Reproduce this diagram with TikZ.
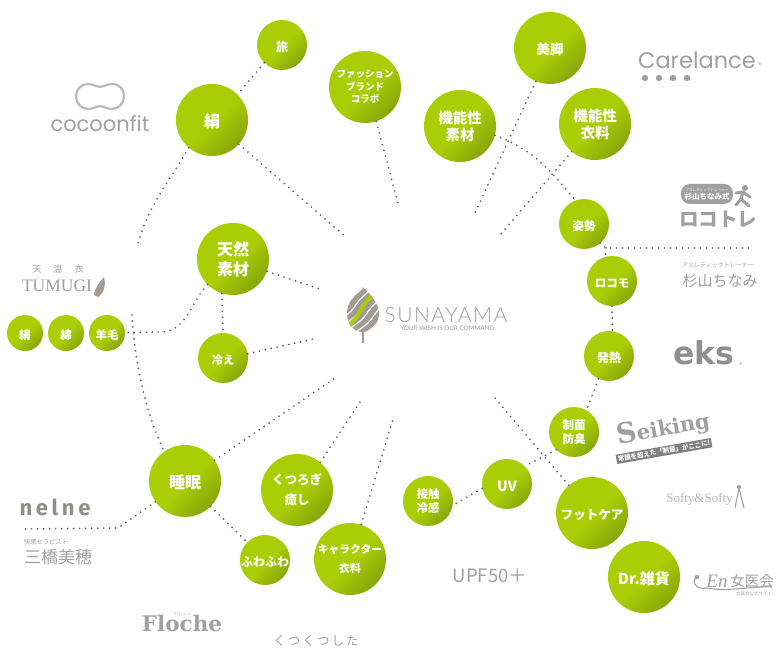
\documentclass[tikz,border=0pt]{standalone}
\usepackage{fontspec}
\setmainfont{Noto Sans CJK JP}
\newfontfamily\latofont{Lato}
\newfontfamily\lightfont[LetterSpace=7]{Lato Light}
\newfontfamily\popfont{Poppins}
\newfontfamily\serfont{Liberation Serif}
\newfontfamily\slabfont{DejaVu Serif}
\newfontfamily\heavyfont{DejaVu Sans}
\newfontfamily\firafont{Fira Sans}
\definecolor{limeball}{HTML}{ABCD05}
\definecolor{oliveball}{HTML}{7E9E0C}
\definecolor{dotgray}{HTML}{5F5A55}
\definecolor{logogray}{HTML}{A0A0A0}
\definecolor{warmgray}{HTML}{A39C96}
\pgfdeclarehorizontalshading{ballshade}{100bp}{color(0bp)=(limeball); color(52bp)=(limeball); color(80bp)=(oliveball); color(100bp)=(oliveball)}
\tikzset{
  ball/.style={circle, inner sep=0pt, shading=ballshade, shading angle=-45, text=white, font=\bfseries, align=center,
    execute at begin node={\rule{0pt}{\dimexpr.88em+3pt\relax}}},
  lowtext/.style={execute at begin node={\rule{0pt}{\dimexpr.88em+9pt\relax}}},
  smallball/.style={ball, minimum size=50pt, font=\bfseries\fontsize{11.5}{14.5}\selectfont},
  bigball/.style={ball, minimum size=72pt, font=\bfseries\fontsize{14.5}{17}\selectfont},
  tinyball/.style={ball, minimum size=36pt, font=\bfseries\fontsize{11.5}{13}\selectfont},
  dotline/.style={draw=dotgray, line width=1.9pt, line cap=round, dash pattern=on 0pt off 6pt},
  logotext/.style={text=logogray, inner sep=0pt}
}
\begin{document}
\begin{tikzpicture}[x=1pt,y=-1pt]
  \useasboundingbox (0,0) rectangle (780,660);
  % circles
  \node[smallball, font=\bfseries\fontsize{12}{14}\selectfont] (tabi) at (282,45) {旅};
  \node[bigball, font=\bfseries\fontsize{16}{18}\selectfont] (kinu) at (212,120) {絹};
  \node[bigball, lowtext, font=\bfseries\fontsize{9.5}{12.5}\selectfont] (fashion) at (365,87) {ファッション\\ブランド\\コラボ};
  \node[bigball, font=\bfseries\fontsize{13.5}{18}\selectfont] (bikyaku) at (550,48) {美脚};
  \node[bigball, lowtext] (sozai) at (460,126) {機能性\\素材};
  \node[bigball, lowtext] (wear) at (595,124) {機能性\\衣料};
  \node[smallball] (shisei) at (584,224) {姿勢};
  \node[smallball] (locomo) at (612,281) {ロコモ};
  \node[smallball, font=\bfseries\fontsize{12}{14}\selectfont] (hatsunetsu) at (609,356) {発熱};
  \node[smallball] (seikin) at (574,432) {制菌\\防臭};
  \node[bigball, font=\bfseries\fontsize{12.5}{16}\selectfont] (foot) at (592,513) {フットケア};
  \node[bigball, font=\bfseries\fontsize{15}{18}\selectfont] (doctor) at (644,577) {Dr.雑貨};
  \node[smallball, font=\bfseries\fontsize{14}{14}\selectfont] (uv) at (507,484) {UV};
  \node[smallball] (sesshoku) at (428,501) {接触\\冷感};
  \node[bigball, lowtext, font=\bfseries\fontsize{10.8}{19}\selectfont] (chara) at (350,559) {キャラクター\\衣料};
  \node[bigball, lowtext, font=\bfseries\fontsize{12.5}{20}\selectfont] (kutsu) at (297,490) {くつろぎ\\癒し};
  \node[smallball, font=\bfseries\fontsize{12}{14}\selectfont] (fuwa) at (265,560) {ふわふわ};
  \node[bigball, font=\bfseries\fontsize{16}{18}\selectfont] (suimin) at (185,481) {睡眠};
  \node[smallball] (hie) at (223,358) {冷え};
  \node[bigball, lowtext, font=\bfseries\fontsize{16}{20}\selectfont] (tennen) at (233,259) {天然\\素材};
  \node[tinyball] (silk) at (25,333) {絹};
  \node[tinyball] (cotton) at (66,333) {綿};
  \node[tinyball] (youmou) at (107,333) {羊毛};
  % free ends of the dotted lines
  \coordinate (endkinu) at (347,238);
  \coordinate (endfashion) at (399,207);
  \coordinate (endbikyaku) at (473,217);
  \coordinate (endwear) at (500,235);
  \coordinate (endfoot) at (495,398);
  \coordinate (endchara) at (394,416);
  \coordinate (endkutsu) at (360,402);
  \coordinate (endsuimin) at (338,376);
  \coordinate (endhie) at (318,338);
  \coordinate (endtennen) at (323,290);
  \coordinate (endloco) at (754,248);
  \coordinate (kneeloco) at (606,248);
  \coordinate (endcocoon) at (137,247);
  \coordinate (endtumugi) at (132,315);
  \coordinate (endnelne) at (22,529);
  \coordinate (kneenelne) at (118,528);
  \coordinate (kneewool) at (160,332);
  % dotted lines
  \draw[dotline] (tabi.-135) -- (kinu.45);
  \draw[dotline] (kinu.-42) -- (endkinu);
  \draw[dotline] (fashion.-72) -- (endfashion);
  \draw[dotline] (bikyaku.-113) -- (endbikyaku);
  \draw[dotline] (wear.-130) -- (endwear);
  \draw[dotline] (sozai.-15) to[out=-20,in=130] (shisei.110);
  \draw[dotline] (shisei.-50) -- (kneeloco) -- (endloco);
  \draw[dotline] (kneeloco) -- (locomo.105);
  \draw[dotline] (locomo.-90) -- (hatsunetsu.82);
  \draw[dotline] (hatsunetsu.-115) -- (seikin.60);
  \draw[dotline] (seikin.-135) -- (uv.45);
  \draw[dotline] (uv.190) -- (sesshoku.-10);
  \draw[dotline] (foot.130) -- (endfoot);
  \draw[dotline] (chara.72) -- (endchara);
  \draw[dotline] (kutsu.50) -- (endkutsu);
  \draw[dotline] (suimin.35) -- (endsuimin);
  \draw[dotline] (suimin.-45) -- (fuwa.135);
  \draw[dotline] (suimin.-145) -- (kneenelne) -- (endnelne);
  \draw[dotline] (hie.10) -- (endhie);
  \draw[dotline] (tennen.-20) -- (endtennen);
  \draw[dotline] (tennen.-108) -- (hie.90);
  \draw[dotline] (tennen.-135) to[out=-132,in=0] (kneewool) -- (youmou);
  \draw[dotline] (kinu.-130) to[out=-120,in=75] (endcocoon);
  \draw[dotline] (endtumugi) .. controls (134,355) and (144,410) .. (suimin.125);
  % centre logo
  \begin{scope}
    \clip (363,287) .. controls (372,296) and (379,305) .. (379,313) .. controls (379,325) and (370,332) .. (363,332) .. controls (354,332) and (347,325) .. (347,313) .. controls (347,303) and (355,293) .. (363,287) -- cycle;
    \fill[warmgray] (345,285) rectangle (381,334);
    \foreach \s in {-24,-18,-12,-6,0,6,12,18,24} {
      \draw[white, line width=1.1pt] (339+\s,329+\s*0.6) .. controls (352+\s,318+\s*0.6) and (356+\s,318+\s*0.6) .. (362+\s,308+\s*0.6) .. controls (366+\s,302+\s*0.6) and (372+\s,298+\s*0.6) .. (384+\s,286+\s*0.6);
    }
    \draw[limeball, line width=3.8pt] (349,325) .. controls (356,318) and (358,316) .. (362,308) .. controls (365,302) and (368,299) .. (373,295);
  \end{scope}
  \draw[warmgray, line width=1.2pt] (363,332) -- (363,343);
  \node[text=warmgray, inner sep=0pt, font=\lightfont\fontsize{21}{21}\selectfont] (sunayama) at (446,315.5) {SUNAYAMA};
  \node[text=warmgray, inner sep=0pt, font=\latofont\fontsize{6.3}{6.5}\selectfont] (wish) at (448,328.5) {YOUR WISH IS OUR COMMAND.};
  % brand marks
  \draw[logogray!75, line width=2.2pt] (88,84) .. controls (94,84) and (96,87) .. (100,87) .. controls (104,87) and (106,84) .. (112,84) .. controls (120,84) and (124,90) .. (124,96) .. controls (124,103) and (119,109) .. (112,109) .. controls (106,109) and (104,106) .. (100,106) .. controls (96,106) and (94,109) .. (88,109) .. controls (81,109) and (76,103) .. (76,96) .. controls (76,90) and (81,84) .. (88,84) -- cycle;
  \node[logotext, font=\popfont\fontsize{21}{21}\selectfont] (cocoonfit) at (100,124) {cocoonfit};
  \node[logotext, font=\fontsize{9}{9}\selectfont] (tenon) at (58,269) {天\hspace{12pt}温\hspace{12pt}衣};
  \node[text=warmgray, inner sep=0pt, font=\serfont\fontsize{17.5}{18}\selectfont] (tumugi) at (57,286) {TUMUGI};
  \fill[warmgray] (94,295) .. controls (95,287) and (100,282) .. (104,277) .. controls (106,284) and (105,292) .. (98,297) -- cycle;
  \node[logotext, font=\popfont\fontsize{22.5}{23}\selectfont] (carelance) at (697,60) {Carelance};
  \node[logotext, font=\popfont\fontsize{7}{7}\selectfont] at (760,65) {®};
  \foreach \x in {645,659,673,687} {
    \fill[logogray] (\x,78) circle (3.2);
  }
  \fill[logogray, rounded corners=9pt] (681,184) rectangle (733,204);
  \node[text=white, inner sep=0pt, align=center, font=\fontsize{3.6}{4}\selectfont] (athlete) at (707,190) {アスレティックトレーナー};
  \node[text=white, inner sep=0pt, font=\bfseries\fontsize{7.5}{8}\selectfont] (sugiyama) at (707,197) {杉山ちなみ式};
  \fill[logogray] (745,188) circle (3);
  \draw[logogray, line width=3pt, line cap=round, line join=round] (743,192) -- (741,199) -- (749,206) (741,199) -- (736,205) (736,193) -- (743,192) -- (750,197);
  \node[logotext, font=\bfseries\fontsize{19.5}{20}\selectfont] (locotore) at (718,219) {ロコトレ};
  \node[logotext, font=\fontsize{6}{7}\selectfont] (athlete2) at (718,265) {アスレティックトレーナー};
  \node[logotext, font=\fontsize{15}{16}\selectfont] (chinami) at (720,281) {杉山ちなみ};
  \node[text=logogray!90!black, inner sep=0pt, font=\heavyfont\bfseries\fontsize{31.5}{32}\selectfont] (eks) at (704,353) {eks};
  \node[logotext, font=\popfont\fontsize{7}{7}\selectfont] at (741,365) {®};
  \node[text=white, fill=black!50, inner sep=1.5pt, rotate=10, font=\bfseries\fontsize{6.5}{7}\selectfont] (seikingsub) at (664,451) {常識を超えた「制菌」がここに!};
  \node[text=logogray, inner sep=0pt, rotate=10, font=\slabfont\bfseries\fontsize{21}{24}\selectfont] (seiking) at (663,428) {{\fontsize{28}{28}\selectfont S}eiking};
  \node[text=logogray!80, inner sep=0pt, font=\serfont\fontsize{13}{14}\selectfont] (softy) at (699.5,499) {Softy\&Softy};
  \draw[logogray, line width=1pt] (739,488) -- (735,508) (739,488) -- (744,508);
  \fill[logogray] (739,487) circle (2);
  \node[logotext, font=\serfont\itshape\fontsize{19}{19}\selectfont] (en) at (717,581) {En};
  \node[logotext, font=\fontsize{14.5}{15}\selectfont] (joikai) at (752,581) {女医会};
  \node[logotext, font=\fontsize{4.5}{5}\selectfont] (enofficial) at (754,594) {女医会公式サイト};
  \draw[logogray, line width=1.1pt] (696,578) .. controls (690,584) and (700,590) .. (706,588) .. controls (730,592) and (750,586) .. (772,587);
  \fill[logogray] (697,577) circle (2.2);
  \node[text=warmgray!90!black, inner sep=0pt, font=\firafont\bfseries\fontsize{22}{22}\selectfont] (nelne) at (55,507) {n\,e\,l\,n\,e};
  \node[logotext, font=\fontsize{6.3}{7}\selectfont] (therapist) at (46,542) {快眠セラピスト};
  \node[logotext, font=\fontsize{17}{17}\selectfont] (mihashi) at (58,557) {三橋美穂};
  \node[logotext, font=\slabfont\bfseries\fontsize{21.5}{22}\selectfont] (floche) at (182,623) {Floche};
  \node[logotext, font=\fontsize{3.5}{4}\selectfont] at (182,614) {フロッシュ};
  \node[logotext, font=\fontsize{12.5}{13}\selectfont] (kutsukutsu) at (316,641) {く\,つ\,く\,つ\,し\,た};
  \node[logotext, font=\fontsize{18.5}{19}\selectfont] (upf) at (490,576) {UPF50＋};
\end{tikzpicture}
\end{document}
